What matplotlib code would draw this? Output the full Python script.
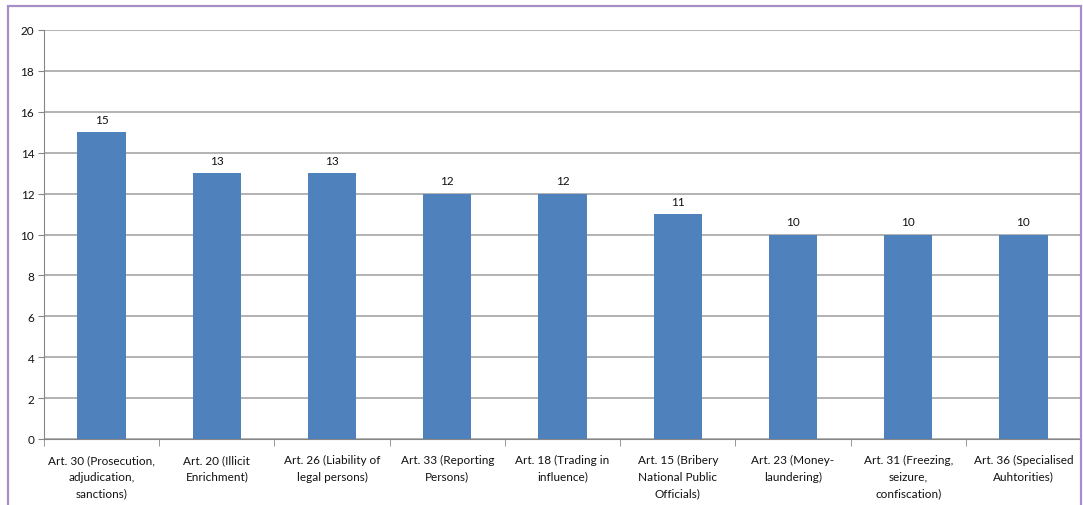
import matplotlib.pyplot as plt
from matplotlib.patches import Rectangle
import numpy as np

categories = [
    "Art. 30 (Prosecution,\nadjudication,\nsanctions)",
    "Art. 20 (Illicit\nEnrichment)",
    "Art. 26 (Liability of\nlegal persons)",
    "Art. 33 (Reporting\nPersons)",
    "Art. 18 (Trading in\ninfluence)",
    "Art. 15 (Bribery\nNational Public\nOfficials)",
    "Art. 23 (Money-\nlaundering)",
    "Art. 31 (Freezing,\nseizure,\nconfiscation)",
    "Art. 36 (Specialised\nAuhtorities)",
]
counts = [15, 13, 13, 12, 12, 11, 10, 10, 10]
y_ticks = [0, 2, 4, 6, 8, 10, 12, 14, 16, 18, 20]

plt.rcParams["font.family"] = ["Lato", "DejaVu Sans"]

fig = plt.figure(figsize=(10.83, 5.06), dpi=100)
ax = fig.add_axes([44 / 1083, 1 - 440 / 506, (1081 - 44) / 1083, (440 - 31) / 506])

# purple outer frame of the chart object
fig.patches.append(Rectangle((8 / 1083, -0.05), (1081 - 8) / 1083, 1.05 - 7 / 506,
                             transform=fig.transFigure, fill=False,
                             edgecolor="#a58fc6", linewidth=1.6))

x = np.arange(len(categories))
ax.bar(x, counts, width=0.42, color="#4f81bd", zorder=3)
for xi, v in zip(x, counts):
    ax.text(xi, v + 0.35, str(v), ha="center", va="bottom", fontsize=8.5, color="#111111")

ax.set_xlim(-0.5, len(categories) - 0.5)
ax.set_ylim(0, 20)
ax.set_yticks(y_ticks)
ax.tick_params(axis="y", labelsize=8.5, length=4, color="#868686", labelcolor="#111111", pad=3)
ax.yaxis.grid(True, color="#a6a6a6", linewidth=1.2, zorder=0)

ax.set_xticks(x)
ax.set_xticklabels(categories, fontsize=8.5, color="#111111", linespacing=1.6)
ax.tick_params(axis="x", length=0, pad=11)
ax.set_xticks(np.arange(len(categories) + 1) - 0.5, minor=True)
ax.tick_params(axis="x", which="minor", length=5, color="#868686")

for side in ["top", "right"]:
    ax.spines[side].set_visible(False)
ax.spines["left"].set_color("#868686")
ax.spines["bottom"].set_color("#868686")

fig.savefig("out.png", dpi=100)
